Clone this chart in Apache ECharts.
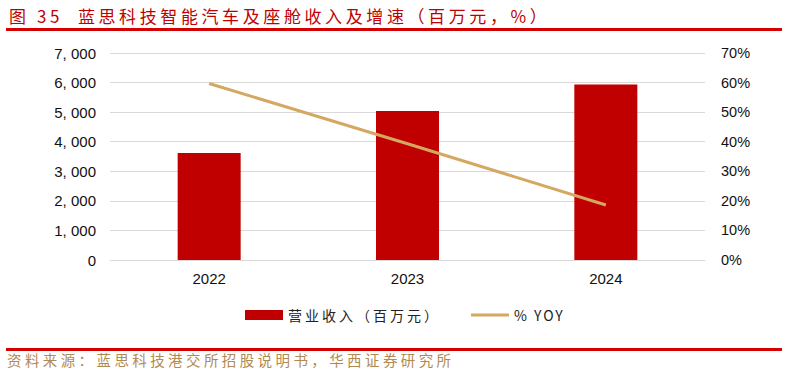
<!DOCTYPE html>
<html>
<head>
<meta charset="utf-8">
<script src="https://cdn.jsdelivr.net/npm/echarts@6/dist/echarts.min.js"></script>
<style>
  html, body { margin: 0; padding: 0; background: #fff; }
  #chart { width: 798px; height: 377px; }
</style>
</head>
<body>
<div id="chart"></div>
<script>
// chart data
const years = ["2022", "2023", "2024"];
const revenue = [3618, 5039, 5935];
const yoy = [59.7, 39.3, 18.6];
const revTicks = [0, 7000, 1000];
const pctTicks = [0, 70, 10];

const TITLE = "图 35  蓝思科技智能汽车及座舱收入及增速（百万元，%）";
const SOURCE = "资料来源：蓝思科技港交所招股说明书，华西证券研究所";
const LEGEND_BAR = "营业收入（百万元）";
const LEGEND_LINE = "% YOY";
const RED = "#c00000";
const GOLD = "#d4a861";
const CJK = "'Noto Sans CJK SC', 'Noto Sans', sans-serif";

function fmtThousands(v) {
    return String(v).replace(/\B(?=(\d{3})+(?!\d))/g, ", ");
}

// the report font is spaced wider than Noto CJK, so widen the CJK texts
const SPACING = {};
SPACING[TITLE] = "3.6px";
SPACING[SOURCE] = "3.4px";
SPACING[LEGEND_BAR] = "3px";
SPACING[LEGEND_LINE] = "2px";

function spaceTexts() {
    document.querySelectorAll("#chart svg text").forEach(t => {
        const s = SPACING[t.textContent];
        if (s) t.style.letterSpacing = s;
    });
}

const chart = echarts.init(document.getElementById("chart"), null, { renderer: "svg" });

chart.setOption({
    backgroundColor: "#fff",
    animation: false,
    textStyle: { fontFamily: "Arial, 'Liberation Sans', sans-serif" },
    title: {
        text: TITLE,
        left: 4,
        top: 2,
        textStyle: { color: RED, fontSize: 17, fontWeight: "normal", fontFamily: CJK }
    },
    graphic: [
        { type: "rect", shape: { x: 6, y: 28, width: 776, height: 3 }, style: { fill: "#d40000" } },
        { type: "rect", shape: { x: 6, y: 348, width: 776, height: 3 }, style: { fill: "#d40000" } },
        {
            type: "text", left: 7, top: 352,
            style: { text: SOURCE, fill: "#b08a50", fontSize: 14.5, fontFamily: CJK }
        }
    ],
    legend: {
        bottom: 50,
        left: 240,
        itemGap: 57,
        itemWidth: 38,
        itemHeight: 10,
        textStyle: { fontSize: 14, color: "#222", fontFamily: CJK },
        data: [
            { name: LEGEND_BAR, icon: "rect" },
            { name: LEGEND_LINE, icon: "path://M0,0 L40,0 L40,3 L0,3 Z" }
        ]
    },
    grid: { left: 110, right: 93, top: 53, bottom: 117 },
    xAxis: {
        type: "category",
        data: years,
        axisLine: { show: true, lineStyle: { color: "#d9d9d9", width: 1 } },
        axisTick: { show: false },
        axisLabel: { color: "#111", fontSize: 15, margin: 11 }
    },
    yAxis: [
        {
            type: "value",
            min: revTicks[0], max: revTicks[1], interval: revTicks[2],
            axisLine: { show: false },
            axisTick: { show: false },
            splitLine: { lineStyle: { color: "#d9d9d9", width: 1 } },
            axisLabel: { color: "#111", fontSize: 15, margin: 14, formatter: fmtThousands }
        },
        {
            type: "value",
            min: pctTicks[0], max: pctTicks[1], interval: pctTicks[2],
            axisLine: { show: false },
            axisTick: { show: false },
            splitLine: { show: false },
            axisLabel: { color: "#111", fontSize: 14.5, margin: 16, formatter: "{value}%" }
        }
    ],
    series: [
        {
            name: LEGEND_BAR,
            type: "bar",
            data: revenue,
            barWidth: 63,
            itemStyle: { color: RED }
        },
        {
            name: LEGEND_LINE,
            type: "line",
            yAxisIndex: 1,
            data: yoy,
            symbol: "none",
            lineStyle: { color: GOLD, width: 3 },
            itemStyle: { color: GOLD }
        }
    ]
});

spaceTexts();
chart.on("rendered", spaceTexts);
</script>
</body>
</html>
